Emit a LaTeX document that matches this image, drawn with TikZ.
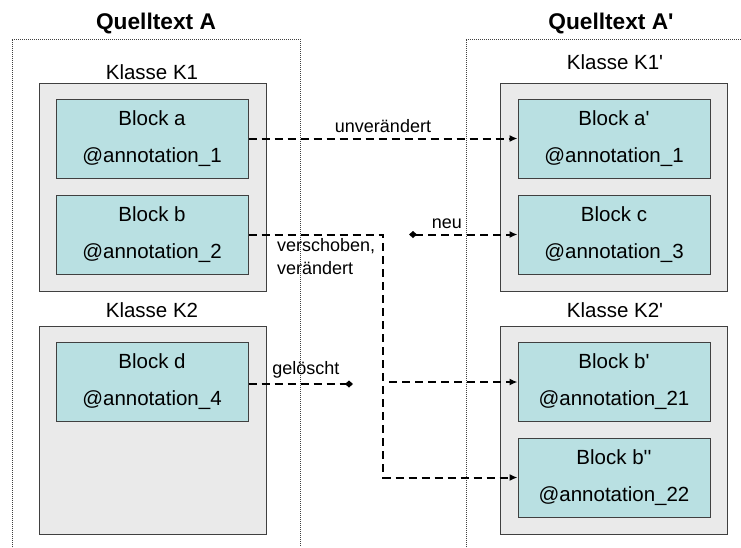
\documentclass[tikz,border=0pt]{standalone}
\usepackage{fontspec}
\setmainfont{Liberation Sans}[Ligatures=TeXOff]
\usetikzlibrary{arrows.meta}

\definecolor{blockcyan}{RGB}{185,224,226}
\definecolor{classgray}{RGB}{234,234,234}
\definecolor{framegray}{RGB}{64,64,64}

\def\blockwidth{192pt}
\def\blockheight{79pt}

\begin{document}
\begin{tikzpicture}[x=1pt, y=-1pt,
  source/.style={draw=black!75, line width=1pt, dash pattern=on 1pt off 1pt},
  klasse/.style={draw=framegray, fill=classgray, line width=1pt, minimum width=227pt, minimum height=208pt, inner sep=0pt},
  block/.style={draw=framegray, fill=blockcyan, line width=1pt, minimum width=\blockwidth, minimum height=\blockheight, align=center, inner sep=0pt, font=\fontsize{20.5}{37}\selectfont},
  title/.style={font=\fontsize{22.7}{26}\selectfont\bfseries},
  klabel/.style={font=\fontsize{20.5}{24}\selectfont},
  clabel/.style={font=\fontsize{18}{23}\selectfont},
  conn/.style={line width=2pt, dash pattern=on 8pt off 5pt},
  tip/.style={-{Latex[length=8pt,width=7pt]}}]
  \useasboundingbox (0,0) rectangle (741,547);

  % Quelltexte
  \draw [source] (12,547) -- (12,39) -- (300,39) -- (300,547);
  \draw [source] (466,547) -- (466,39) -- (741,39);
  \node [title] (qa) at (156, 24){Quelltext A};
  \node [title] (qb) at (611, 24){Quelltext A'};

  % Klassen
  \node [klasse] (k1) at (152.5, 187){};
  \node [klabel] (k1label) at (152, 72){Klasse K1};
  \node [klasse] (k2) at (152.5, 430){};
  \node [klabel] (k2label) at (152, 310){Klasse K2};
  \node [klasse] (k1p) at (614, 187){};
  \node [klabel] (k1plabel) at (615, 62){Klasse K1'};
  \node [klasse] (k2p) at (614, 430){};
  \node [klabel] (k2plabel) at (615, 310){Klasse K2'};

  % Bloecke
  \node [block] (ba) at (152, 138.5){Block a\\@annotation\_1};
  \node [block] (bb) at (152, 234.5){Block b\\@annotation\_2};
  \node [block] (bd) at (152, 382){Block d\\@annotation\_4};
  \node [block] (bap) at (614, 138.5){Block a'\\@annotation\_1};
  \node [block] (bc) at (614, 234.5){Block c\\@annotation\_3};
  \node [block] (bbp) at (614, 382){Block b'\\@annotation\_21};
  \node [block] (bbpp) at (614, 477.5){Block b''\\@annotation\_22};

  \coordinate (neu) at (409, 234.5);
  \coordinate (knick) at (383, 0);
  \coordinate (del) at (353, 384);

  \draw [conn, tip] (ba.east) -- node [above, clabel, pos=0.5, yshift=1pt]{unverändert} (bap.west);
  \draw [conn, {Diamond[length=8pt,width=7pt]}-{Latex[length=8pt,width=7pt]}] (neu) -- node [above, clabel, pos=0.35, yshift=1pt]{neu} (bc.west);
  \draw [conn, tip] (bb.east) -| (knick |- bbpp.west) -- (bbpp.west);
  \draw [conn, tip] ([xshift=6pt]knick |- bbp.west) -- (bbp.west);
  \node [clabel, align=left, anchor=north west, inner sep=0pt] (verschoben) at (277, 238){verschoben,\\verändert};
  \draw [conn, -{Diamond[length=8pt,width=7pt]}] (bd.east |- del) -- node [above, clabel, pos=0.55, yshift=1pt]{gelöscht} (del);

\end{tikzpicture}
\end{document}
